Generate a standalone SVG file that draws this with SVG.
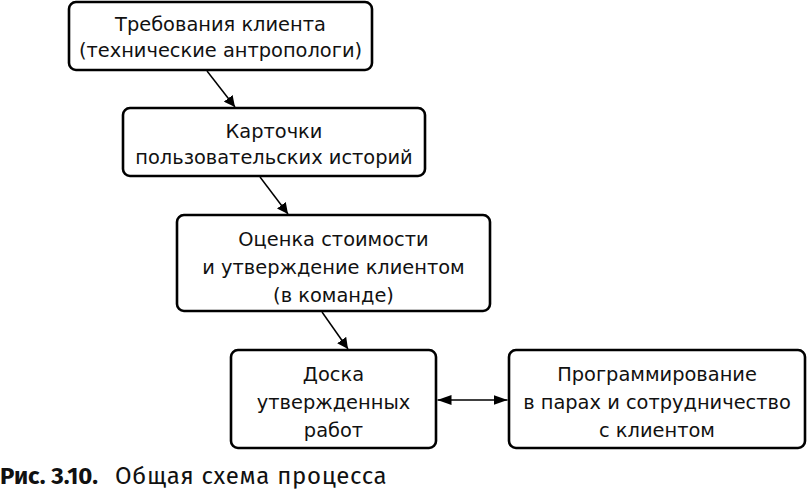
<svg xmlns="http://www.w3.org/2000/svg" width="808" height="493" viewBox="0 0 808 493">
<defs>
<style>
.box{fill:#fff;stroke:#000;stroke-width:2.6}
.t{font-family:"DejaVu Sans",Verdana,sans-serif;font-size:19.4px;text-anchor:middle;fill:#111}
.c{stroke:#000;stroke-width:1.5;fill:none}
.cap{font-family:"Fira Sans","Open Sans","Noto Sans",sans-serif;font-size:24px;fill:#111}
</style>
<marker id="ah" viewBox="0 0 11 11" refX="11" refY="5.5" markerWidth="11" markerHeight="11" markerUnits="userSpaceOnUse" orient="auto-start-reverse">
<path d="M0,0 L11,5.5 L0,11 z" fill="#000"/>
</marker>
<marker id="ah2" viewBox="0 0 14 10" refX="14" refY="5" markerWidth="14" markerHeight="10" markerUnits="userSpaceOnUse" orient="auto-start-reverse">
<path d="M0,0 L14,5 L0,10 z" fill="#000"/>
</marker>
</defs>
<g id="n1"><rect class="box" x="69" y="2" width="303" height="68" rx="7"/>
<text class="t" x="220.5" y="31">Требования клиента</text>
<text class="t" x="220.5" y="57">(технические антропологи)</text></g>
<g id="n2"><rect class="box" x="123" y="108" width="302" height="68" rx="7"/>
<text class="t" x="274" y="138">Карточки</text>
<text class="t" x="274" y="164">пользовательских историй</text></g>
<g id="n3"><rect class="box" x="177" y="215" width="313" height="96" rx="7"/>
<text class="t" x="333.5" y="246">Оценка стоимости</text>
<text class="t" x="333.5" y="274">и утверждение клиентом</text>
<text class="t" x="333.5" y="302">(в команде)</text></g>
<g id="n4"><rect class="box" x="231" y="350" width="205" height="98" rx="7"/>
<text class="t" x="333.5" y="381">Доска</text>
<text class="t" x="333.5" y="409">утвержденных</text>
<text class="t" x="333.5" y="437">работ</text></g>
<g id="n5"><rect class="box" x="509" y="350" width="296" height="98" rx="7"/>
<text class="t" x="657" y="381">Программирование</text>
<text class="t" x="657" y="409">в парах и сотрудничество</text>
<text class="t" x="657" y="437">с клиентом</text></g>
<g id="connectors">
<line class="c" x1="207" y1="71" x2="235" y2="107" marker-end="url(#ah)"/>
<line class="c" x1="260" y1="177" x2="288" y2="214" marker-end="url(#ah)"/>
<line class="c" x1="322" y1="312" x2="348" y2="349" marker-end="url(#ah)"/>
<line class="c" x1="437.5" y1="400" x2="507.5" y2="400" marker-start="url(#ah2)" marker-end="url(#ah2)"/>
</g>
<text class="cap" x="0" y="484"><tspan font-weight="bold">Рис. 3.10.</tspan><tspan x="115" letter-spacing="0.7">Общая схема процесса</tspan></text>
</svg>
